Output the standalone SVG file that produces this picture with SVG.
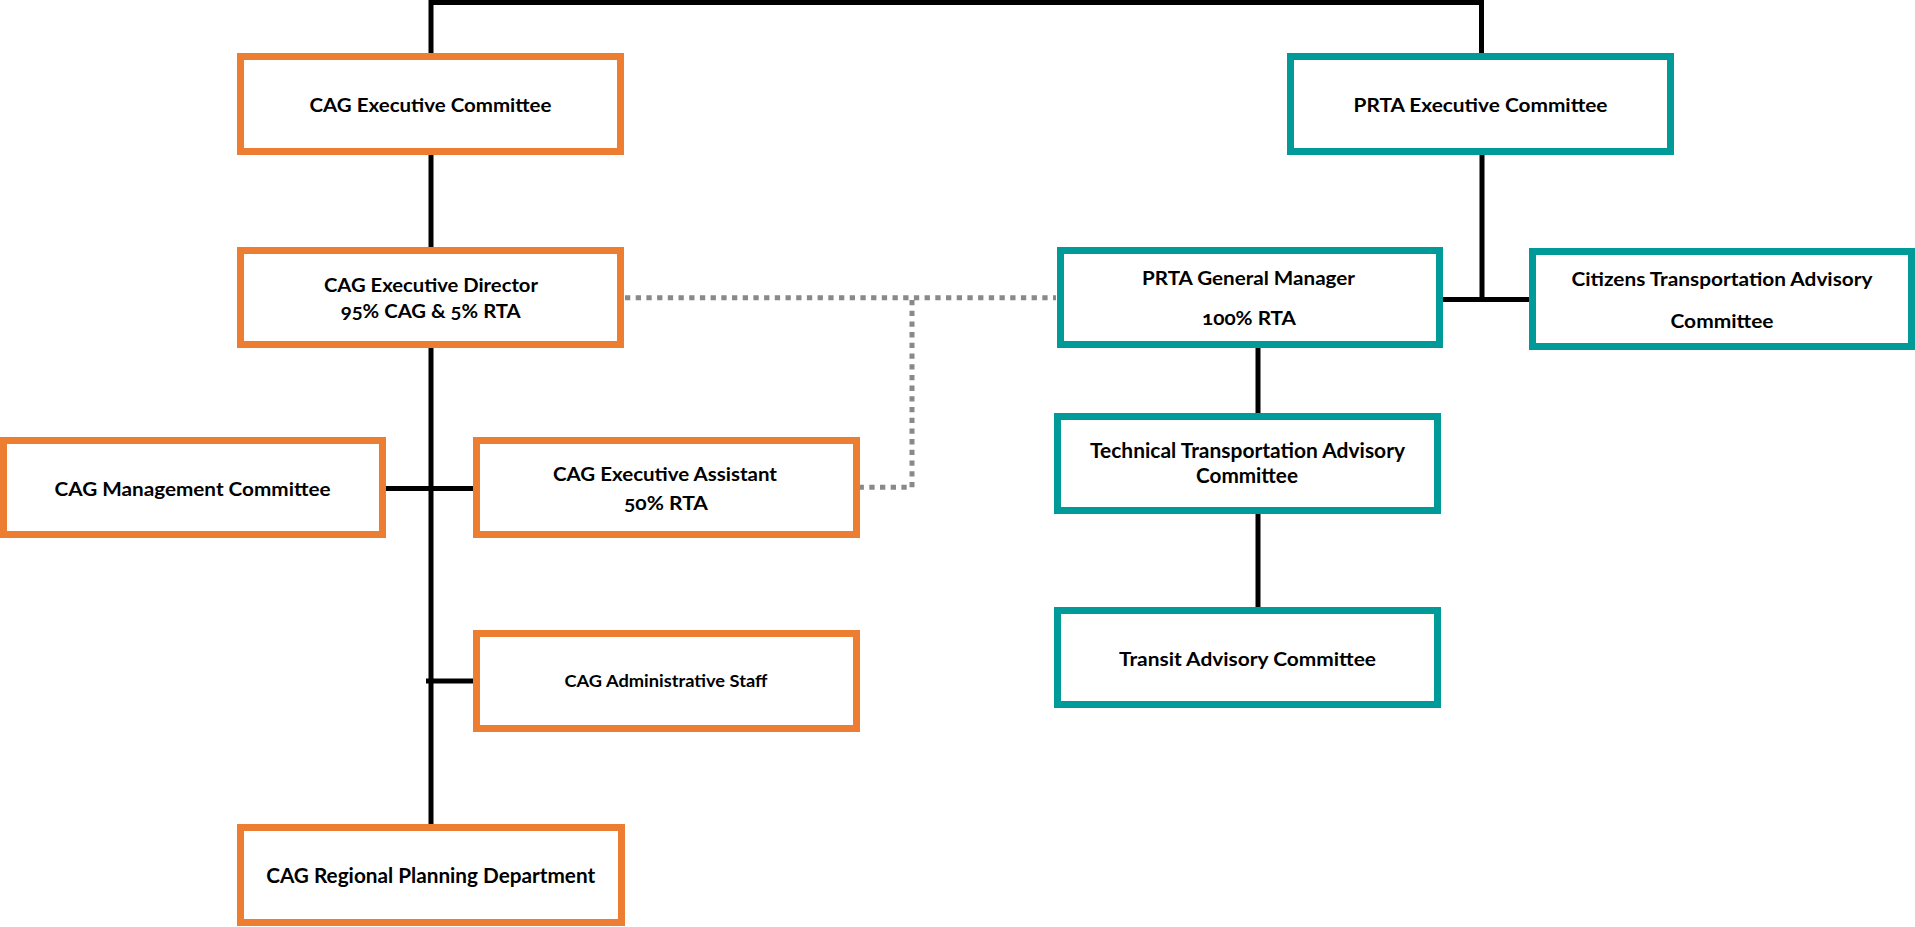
<svg xmlns="http://www.w3.org/2000/svg" width="1915" height="927" viewBox="0 0 1915 927">
<style>
.bg{fill:#ffffff}
.cag{fill:#ffffff;stroke:#ED7D31;stroke-width:7}
.prta{fill:#ffffff;stroke:#009A98;stroke-width:7}
.t{font-family:Lato,"Open Sans","Liberation Sans",sans-serif;font-weight:bold;fill:#000000;text-anchor:middle;font-variant-numeric:oldstyle-nums}
.solid{fill:none;stroke:#000000;stroke-width:5}
.dot{fill:none;stroke:#898989;stroke-width:5;stroke-dasharray:5.3 5.4}
</style>
<rect class="bg" x="0" y="0" width="1915" height="927"/>
<g id="connectors">
<path class="solid" d="M431 53 V2.5 H1481.5 V53"/>
<path class="solid" d="M431 155 V247"/>
<path class="solid" d="M431 348 V824"/>
<path class="solid" d="M386 488.5 H473"/>
<path class="solid" d="M426 681 H473"/>
<path class="solid" d="M1482 155 V299.5"/>
<path class="solid" d="M1443 299.5 H1529"/>
<path class="solid" d="M1258 348 V413"/>
<path class="solid" d="M1258 514 V607"/>
<path class="dot" d="M625 297.7 H1056"/>
<path class="dot" d="M912 300 V487.3 H860"/>
</g>
<g id="cag-executive-committee">
<rect class="cag" x="240.5" y="56.5" width="380" height="95"/>
<text class="t" x="430.5" y="112" font-size="18.5" textLength="242" lengthAdjust="spacingAndGlyphs">CAG Executive Committee</text>
</g>
<g id="cag-executive-director">
<rect class="cag" x="240.5" y="250.5" width="380" height="94"/>
<text class="t" x="431" y="292" font-size="18.5" textLength="214" lengthAdjust="spacingAndGlyphs">CAG Executive Director</text>
<text class="t" x="430.7" y="318" font-size="18.5" textLength="180" lengthAdjust="spacingAndGlyphs">95% CAG &amp; 5% RTA</text>
</g>
<g id="cag-management-committee">
<rect class="cag" x="3.5" y="440.5" width="379" height="94"/>
<text class="t" x="192.5" y="496" font-size="18.5" textLength="276" lengthAdjust="spacingAndGlyphs">CAG Management Committee</text>
</g>
<g id="cag-executive-assistant">
<rect class="cag" x="476.5" y="440.5" width="380" height="94"/>
<text class="t" x="665" y="480.7" font-size="19" textLength="224" lengthAdjust="spacingAndGlyphs">CAG Executive Assistant</text>
<text class="t" x="666" y="510" font-size="19" textLength="84" lengthAdjust="spacingAndGlyphs">50% RTA</text>
</g>
<g id="cag-administrative-staff">
<rect class="cag" x="476.5" y="633.5" width="380" height="95"/>
<text class="t" x="666" y="687" font-size="17" textLength="203" lengthAdjust="spacingAndGlyphs">CAG Administrative Staff</text>
</g>
<g id="cag-regional-planning-department">
<rect class="cag" x="240.5" y="827.5" width="381" height="95"/>
<text class="t" x="430.7" y="883.3" font-size="20.5" textLength="329" lengthAdjust="spacingAndGlyphs">CAG Regional Planning Department</text>
</g>
<g id="prta-executive-committee">
<rect class="prta" x="1290.5" y="56.5" width="380" height="95"/>
<text class="t" x="1480.5" y="112" font-size="19.5" textLength="254" lengthAdjust="spacingAndGlyphs">PRTA Executive Committee</text>
</g>
<g id="prta-general-manager">
<rect class="prta" x="1060.5" y="250.5" width="379" height="94"/>
<text class="t" x="1248.5" y="285" font-size="18.5" textLength="213" lengthAdjust="spacingAndGlyphs">PRTA General Manager</text>
<text class="t" x="1249" y="325" font-size="18.5" textLength="94" lengthAdjust="spacingAndGlyphs">100% RTA</text>
</g>
<g id="citizens-transportation-advisory-committee">
<rect class="prta" x="1532.5" y="251.5" width="379" height="95"/>
<text class="t" x="1722" y="286" font-size="18.5" textLength="301" lengthAdjust="spacingAndGlyphs">Citizens Transportation Advisory</text>
<text class="t" x="1722" y="328" font-size="18.5" textLength="103" lengthAdjust="spacingAndGlyphs">Committee</text>
</g>
<g id="technical-transportation-advisory-committee">
<rect class="prta" x="1057.5" y="416.5" width="380" height="94"/>
<text class="t" x="1247.5" y="458.3" font-size="20" textLength="315" lengthAdjust="spacingAndGlyphs">Technical Transportation Advisory</text>
<text class="t" x="1247" y="483.3" font-size="20" textLength="102" lengthAdjust="spacingAndGlyphs">Committee</text>
</g>
<g id="transit-advisory-committee">
<rect class="prta" x="1057.5" y="610.5" width="380" height="94"/>
<text class="t" x="1247.5" y="665.7" font-size="19.5" textLength="257" lengthAdjust="spacingAndGlyphs">Transit Advisory Committee</text>
</g>
</svg>
